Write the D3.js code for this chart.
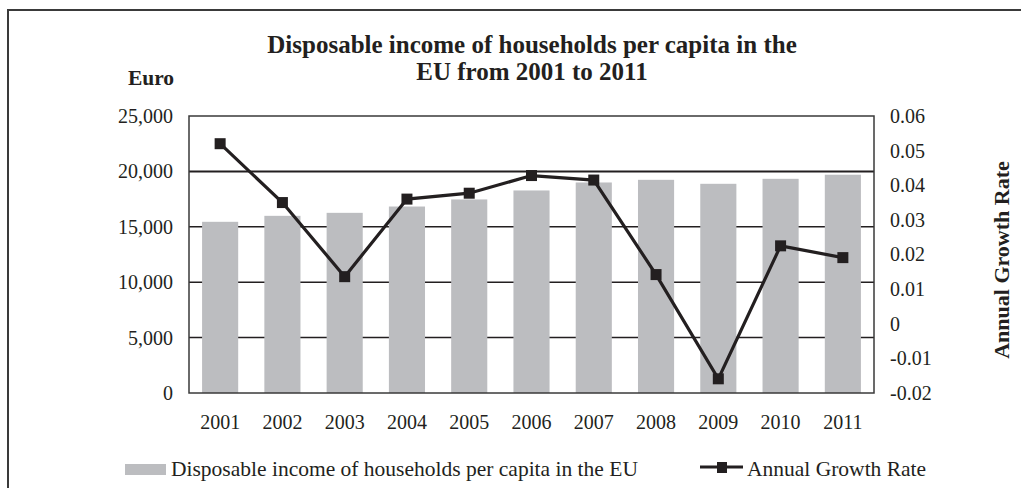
<!DOCTYPE html>
<html>
<head>
<meta charset="utf-8">
<script src="https://cdn.jsdelivr.net/npm/d3@7"></script>
<style>
  html, body { margin: 0; padding: 0; background: #fff; }
  svg { display: block; }
  text { font-family: "Liberation Serif", "Times New Roman", serif; fill: #231f20; }
</style>
</head>
<body>
<svg id="chart" width="1021" height="488"></svg>
<script>
// Data: EU disposable household income per capita and its annual growth rate
const years = ["2001", "2002", "2003", "2004", "2005", "2006", "2007", "2008", "2009", "2010", "2011"];
const income = [15450, 15990, 16260, 16830, 17470, 18280, 19000, 19240, 18880, 19330, 19700];
const growth = [0.052, 0.035, 0.0136, 0.036, 0.0377, 0.0428, 0.0415, 0.0142, -0.0159, 0.0225, 0.0191];
const incomeTicks = [0, 5000, 10000, 15000, 20000, 25000];
const growthTicks = [-0.02, -0.01, 0, 0.01, 0.02, 0.03, 0.04, 0.05, 0.06];

const titleLines = ["Disposable income of households per capita in the", "EU from 2001 to 2011"];
const leftTitle = "Euro";
const rightTitle = "Annual Growth Rate";
const barLegend = "Disposable income of households per capita in the EU";
const lineLegend = "Annual Growth Rate";

const svg = d3.select("#chart");
const ink = "#231f20";
const barColor = "#bcbdc0";

const plot = { left: 189, right: 874, top: 116, bottom: 393 };

const x = d3.scaleBand().domain(years).range([plot.left, plot.right])
  .paddingInner(0.42).paddingOuter(0.21);
const yL = d3.scaleLinear().domain([0, 25000]).range([plot.bottom, plot.top]);
const yR = d3.scaleLinear().domain([-0.02, 0.06]).range([plot.bottom, plot.top]);

// Outer chart border (top and left edges within the canvas)
svg.append("rect")
  .attr("x", 8).attr("y", 10).attr("width", 1040).attr("height", 500)
  .attr("fill", "none").attr("stroke", "#3a3a3a").attr("stroke-width", 2);

// Title
svg.append("g").selectAll("text").data(titleLines).join("text")
  .attr("x", 532).attr("y", (d, i) => 53 + i * 27)
  .attr("text-anchor", "middle")
  .attr("font-size", 25).attr("font-weight", "bold")
  .text(d => d);

// Left axis title
svg.append("text")
  .attr("x", 151).attr("y", 85)
  .attr("text-anchor", "middle")
  .attr("font-size", 21.5).attr("font-weight", "bold")
  .text(leftTitle);

// Horizontal gridlines (behind bars)
svg.append("g").selectAll("line").data(incomeTicks.filter(t => t > 0 && t < 25000)).join("line")
  .attr("x1", plot.left).attr("x2", plot.right)
  .attr("y1", d => yL(d)).attr("y2", d => yL(d))
  .attr("stroke", ink).attr("stroke-width", d => d === 20000 ? 2 : 1.5);

// Bars
svg.append("g").selectAll("rect").data(years).join("rect")
  .attr("x", d => x(d))
  .attr("width", x.bandwidth())
  .attr("y", (d, i) => yL(income[i]))
  .attr("height", (d, i) => yL(0) - yL(income[i]))
  .attr("fill", barColor);

// Plot frame
svg.append("rect")
  .attr("x", plot.left).attr("y", plot.top)
  .attr("width", plot.right - plot.left).attr("height", plot.bottom - plot.top)
  .attr("fill", "none").attr("stroke", "#3a3a3a").attr("stroke-width", 1.5);

// Left axis
const leftAxis = d3.axisLeft(yL).tickValues(incomeTicks).tickSize(0).tickPadding(16)
  .tickFormat(d3.format(","));
const gL = svg.append("g").attr("transform", `translate(${plot.left},0)`).call(leftAxis);
gL.select(".domain").remove();
gL.selectAll("text").attr("font-size", 20).attr("font-family", "Liberation Serif").attr("fill", ink);

// Right axis (plain hyphen for negatives)
const rightAxis = d3.axisRight(yR).tickValues(growthTicks).tickSize(0).tickPadding(16)
  .tickFormat(d => d === 0 ? "0" : d.toFixed(2));
const gR = svg.append("g").attr("transform", `translate(${plot.right},0)`).call(rightAxis);
gR.select(".domain").remove();
gR.selectAll("text").attr("font-size", 20).attr("font-family", "Liberation Serif").attr("fill", ink);

// Bottom axis (year labels)
const bottomAxis = d3.axisBottom(x).tickSize(0).tickPadding(22);
const gB = svg.append("g").attr("transform", `translate(0,${plot.bottom})`).call(bottomAxis);
gB.select(".domain").remove();
gB.selectAll("text").attr("font-size", 20).attr("font-family", "Liberation Serif").attr("fill", ink);

// Right axis title
svg.append("text")
  .attr("transform", "translate(1009,260) rotate(-90)")
  .attr("text-anchor", "middle")
  .attr("font-size", 22).attr("font-weight", "bold")
  .text(rightTitle);

// Growth rate line with square markers
const cx = d => x(d) + x.bandwidth() / 2;
const line = d3.line().x((d, i) => cx(years[i])).y(d => yR(d));
svg.append("path").datum(growth)
  .attr("d", line)
  .attr("fill", "none").attr("stroke", ink).attr("stroke-width", 3.2)
  .attr("stroke-linejoin", "miter");
const ms = 11;
svg.append("g").selectAll("rect").data(growth).join("rect")
  .attr("x", (d, i) => cx(years[i]) - ms / 2)
  .attr("y", d => yR(d) - ms / 2)
  .attr("width", ms).attr("height", ms)
  .attr("fill", ink);

// Legend
const lg = svg.append("g");
lg.append("rect").attr("x", 125).attr("y", 464).attr("width", 41).attr("height", 11).attr("fill", barColor);
lg.append("text").attr("x", 171).attr("y", 476).attr("font-size", 21.5).text(barLegend);
lg.append("line").attr("x1", 700).attr("x2", 743).attr("y1", 467).attr("y2", 467)
  .attr("stroke", ink).attr("stroke-width", 3.2);
lg.append("rect").attr("x", 717).attr("y", 462).attr("width", 10).attr("height", 11).attr("fill", ink);
lg.append("text").attr("x", 747).attr("y", 476).attr("font-size", 21.5).text(lineLegend);
</script>
</body>
</html>
